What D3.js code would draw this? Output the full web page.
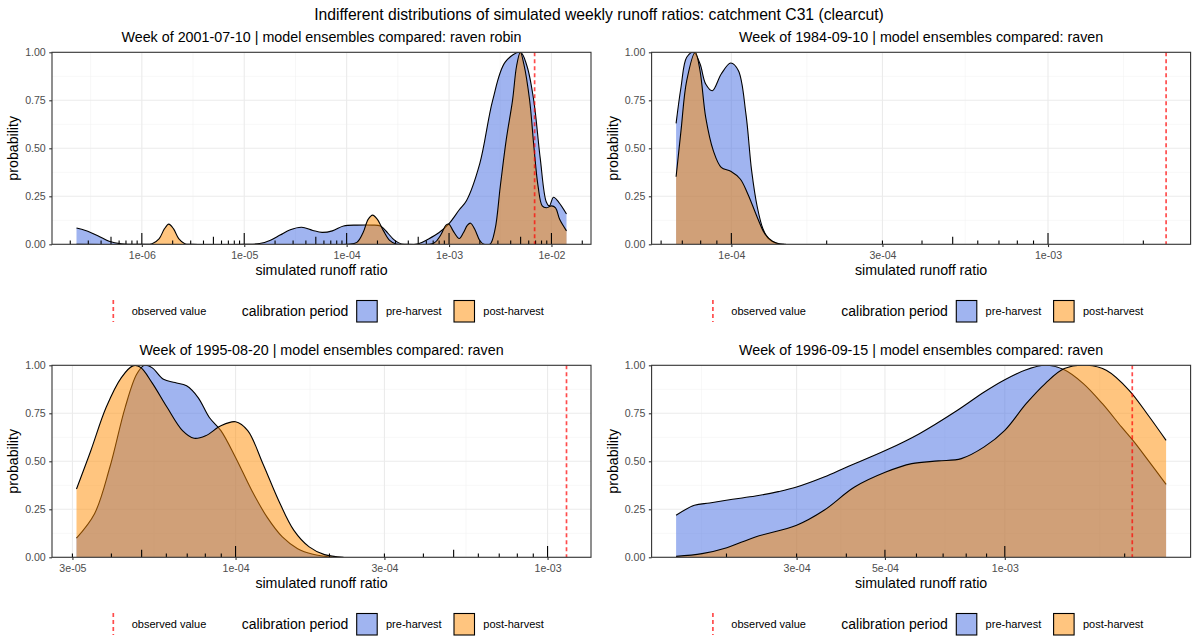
<!DOCTYPE html>
<html>
<head>
<meta charset="utf-8">
<script src="https://cdn.jsdelivr.net/npm/d3@7"></script>
<style>
  body { margin: 0; background: #fff; }
  text { font-family: "Liberation Sans", Arial, sans-serif; }
</style>
</head>
<body>
<svg id="chart"></svg>
<script>
// titres
var mainTitle = "Indifferent distributions of simulated weekly runoff ratios: catchment C31 (clearcut)";
var panelTitles = [
  "Week of 2001-07-10 | model ensembles compared: raven robin",
  "Week of 1984-09-10 | model ensembles compared: raven",
  "Week of 1995-08-20 | model ensembles compared: raven",
  "Week of 1996-09-15 | model ensembles compared: raven"
];
var seriesNames = ["pre-harvest", "post-harvest"];

// densités : [log10(ratio), probabilité]
var pre1 = [[-6.638,0.085],[-6.55,0.072],[-6.43,0.045],[-6.32,0.016],[-6.2,0.002],[-6.1,0],[-5.0,0],[-4.85,0.004],
  [-4.75,0.02],[-4.65,0.048],[-4.55,0.076],[-4.44,0.089],[-4.33,0.072],[-4.24,0.062],[-4.14,0.07],[-4.03,0.095],
  [-3.9,0.1],[-3.75,0.1],[-3.67,0.095],[-3.6,0.06],[-3.55,0.03],[-3.5,0.01],[-3.45,0],[-3.3,0.003],[-3.2,0.028],
  [-3.1,0.06],[-3.0,0.108],[-2.9,0.18],[-2.83,0.227],[-2.7,0.42],[-2.574,0.75],[-2.45,0.95],[-2.304,1.0],
  [-2.24,0.93],[-2.173,0.75],[-2.11,0.45],[-2.05,0.22],[-2.02,0.2],[-1.98,0.245],[-1.93,0.22],[-1.853,0.158]];
var post1 = [[-6.638,0],[-6.0,0],[-5.9,0.003],[-5.83,0.03],[-5.78,0.08],[-5.737,0.105],[-5.69,0.08],[-5.64,0.03],
  [-5.58,0.003],[-5.5,0],[-4.0,0],[-3.9,0.01],[-3.84,0.06],[-3.79,0.13],[-3.746,0.152],[-3.7,0.13],[-3.64,0.07],
  [-3.58,0.02],[-3.52,0.002],[-3.4,0],[-3.15,0.005],[-3.08,0.05],[-3.03,0.1],[-3.0,0.105],[-2.96,0.07],[-2.9,0.03],
  [-2.86,0.06],[-2.82,0.1],[-2.79,0.11],[-2.75,0.08],[-2.7,0.02],[-2.66,0],[-2.6,0],[-2.55,0.08],[-2.5,0.3],
  [-2.44,0.55],[-2.38,0.75],[-2.34,0.93],[-2.304,1.0],[-2.27,0.94],[-2.213,0.75],[-2.17,0.5],[-2.13,0.3],
  [-2.09,0.2],[-2.05,0.19],[-2.0,0.2],[-1.96,0.19],[-1.92,0.13],[-1.853,0.07]];

var pre2 = [[-4.1745,0.63],[-4.159,0.818],[-4.141,0.974],[-4.119,1.0],[-4.099,0.94],[-4.081,0.835],[-4.06,0.8],
  [-4.032,0.887],[-4.002,0.944],[-3.978,0.905],[-3.954,0.679],[-3.936,0.384],[-3.918,0.193],[-3.9,0.08],
  [-3.882,0.028],[-3.858,0.005],[-3.834,0]];
var post2 = [[-4.1745,0.352],[-4.159,0.592],[-4.141,0.852],[-4.114,1.0],[-4.099,0.905],[-4.081,0.661],
  [-4.057,0.488],[-4.032,0.401],[-4.002,0.38],[-3.972,0.34],[-3.948,0.262],[-3.918,0.14],[-3.894,0.054],
  [-3.87,0.016],[-3.846,0.002],[-3.828,0]];

var pre3 = [[-4.5098,0.1],[-4.452,0.227],[-4.403,0.469],[-4.354,0.78],[-4.317,0.953],[-4.292,1.0],[-4.268,0.988],
  [-4.231,0.927],[-4.194,0.91],[-4.157,0.893],[-4.12,0.832],[-4.084,0.728],[-4.047,0.66],[-4.0,0.52],
  [-3.948,0.348],[-3.899,0.209],[-3.85,0.106],[-3.801,0.045],[-3.752,0.016],[-3.69,0]];
var post3 = [[-4.5098,0.356],[-4.464,0.555],[-4.415,0.78],[-4.366,0.936],[-4.329,0.997],[-4.305,0.99],
  [-4.268,0.91],[-4.219,0.78],[-4.17,0.66],[-4.133,0.62],[-4.096,0.633],[-4.047,0.685],[-4.0,0.706],
  [-3.961,0.66],[-3.912,0.486],[-3.862,0.296],[-3.813,0.14],[-3.764,0.054],[-3.715,0.014],[-3.654,0]];

var pre4 = [[-3.8255,0.219],[-3.7795,0.271],[-3.7412,0.283],[-3.6838,0.302],[-3.6263,0.319],[-3.569,0.342],
  [-3.5229,0.366],[-3.4539,0.418],[-3.3965,0.47],[-3.2988,0.557],[-3.2145,0.644],[-3.1188,0.766],
  [-3.0517,0.861],[-3.0,0.925],[-2.9464,0.977],[-2.8985,1.0],[-2.8506,0.977],[-2.8027,0.905],[-2.7548,0.8],
  [-2.707,0.679],[-2.6782,0.609],[-2.6399,0.505],[-2.5949,0.38]];
var post4 = [[-3.8255,0.005],[-3.7604,0.019],[-3.6981,0.05],[-3.6263,0.106],[-3.5229,0.167],[-3.4539,0.245],
  [-3.3773,0.366],[-3.2988,0.444],[-3.2337,0.488],[-3.1666,0.502],[-3.1092,0.514],[-3.0517,0.575],
  [-3.0,0.661],[-2.9464,0.8],[-2.8985,0.905],[-2.8506,0.983],[-2.7931,1.0],[-2.7452,0.974],[-2.6878,0.87],
  [-2.6399,0.74],[-2.5949,0.609]];

// valeur observée (ligne rouge)
var observed = [6.85e-3, 2.36e-3, 1.15e-3, 2.09e-3];

// graduations de l'axe x (avec voisins hors domaine pour la grille mineure)
var breaks1 = [1e-7, 1e-6, 1e-5, 1e-4, 1e-3, 1e-2, 1e-1];
var labels1 = ["1e-07", "1e-06", "1e-05", "1e-04", "1e-03", "1e-02", "1e-01"];
var breaks2 = [3e-5, 1e-4, 3e-4, 1e-3, 3e-3];
var labels2 = ["3e-05", "1e-04", "3e-04", "1e-03", "3e-03"];
var breaks3 = [1e-5, 3e-5, 1e-4, 3e-4, 1e-3, 3e-3];
var labels3 = ["1e-05", "3e-05", "1e-04", "3e-04", "1e-03", "3e-03"];
var breaks4 = [1e-4, 3e-4, 5e-4, 1e-3, 3e-3];
var labels4 = ["1e-04", "3e-04", "5e-04", "1e-03", "3e-03"];

var yBreaks = [0, 0.25, 0.5, 0.75, 1];
var yLabels = ["0.00", "0.25", "0.50", "0.75", "1.00"];

// mise en page
var W = 1193, H = 639;
var plotW = 539, plotH = 192;
var colLefts = [52, 651.6];
var rowTops = [52.3, 365.3];
var blue = "#4169E1", orange = "#FF8C00", fillAlpha = 0.5;

var panels = [
  {pre: pre1, post: post1, obs: observed[0], breaks: breaks1, labels: labels1, title: panelTitles[0]},
  {pre: pre2, post: post2, obs: observed[1], breaks: breaks2, labels: labels2, title: panelTitles[1]},
  {pre: pre3, post: post3, obs: observed[2], breaks: breaks3, labels: labels3, title: panelTitles[2]},
  {pre: pre4, post: post4, obs: observed[3], breaks: breaks4, labels: labels4, title: panelTitles[3]}
];

var svg = d3.select("#chart").attr("width", W).attr("height", H);
svg.append("rect").attr("width", W).attr("height", H).attr("fill", "#fff");

svg.append("text")
  .attr("x", 599).attr("y", 20)
  .attr("text-anchor", "middle")
  .attr("font-size", 15.7)
  .attr("fill", "#000")
  .text(mainTitle);

panels.forEach(function(p, i) {
  var left = colLefts[i % 2], top = rowTops[Math.floor(i / 2)];
  var g = svg.append("g").attr("transform", "translate(" + left + "," + top + ")");

  // domaine x : étendue des données + valeur observée, élargie de 5 % (comme ggplot)
  var lo = Math.min(p.pre[0][0], p.post[0][0], Math.log10(p.obs));
  var hi = Math.max(p.pre[p.pre.length - 1][0], p.post[p.post.length - 1][0], Math.log10(p.obs));
  var pad = (hi - lo) * 0.05;
  var x = d3.scaleLog().domain([Math.pow(10, lo - pad), Math.pow(10, hi + pad)]).range([0, plotW]);
  var y = d3.scaleLinear().domain([0, 1]).range([plotH, 0]);

  var clipId = "clip" + i;
  g.append("clipPath").attr("id", clipId)
    .append("rect").attr("width", plotW).attr("height", plotH);

  var inner = g.append("g").attr("clip-path", "url(#" + clipId + ")");

  // grille mineure
  var yMinor = yBreaks.slice(1).map(function(d, k) { return (d + yBreaks[k]) / 2; });
  var xMinor = p.breaks.slice(1).map(function(d, k) { return Math.sqrt(d * p.breaks[k]); });
  inner.selectAll(".ymin").data(yMinor).enter().append("line")
    .attr("x1", 0).attr("x2", plotW).attr("y1", y).attr("y2", y)
    .attr("stroke", "#F2F2F2").attr("stroke-width", 0.6);
  inner.selectAll(".xmin").data(xMinor).enter().append("line")
    .attr("x1", x).attr("x2", x).attr("y1", 0).attr("y2", plotH)
    .attr("stroke", "#F2F2F2").attr("stroke-width", 0.6);
  // grille majeure
  inner.selectAll(".ymaj").data(yBreaks).enter().append("line")
    .attr("x1", 0).attr("x2", plotW).attr("y1", y).attr("y2", y)
    .attr("stroke", "#EBEBEB").attr("stroke-width", 1.1);
  inner.selectAll(".xmaj").data(p.breaks).enter().append("line")
    .attr("x1", x).attr("x2", x).attr("y1", 0).attr("y2", plotH)
    .attr("stroke", "#EBEBEB").attr("stroke-width", 1.1);

  // densités
  var curve = d3.curveCatmullRom.alpha(0.5);
  var area = d3.area()
    .x(function(d) { return x(Math.pow(10, d[0])); })
    .y0(plotH)
    .y1(function(d) { return y(d[1]); })
    .curve(curve);
  var line = d3.line()
    .x(function(d) { return x(Math.pow(10, d[0])); })
    .y(function(d) { return y(d[1]); })
    .curve(curve);

  [[p.pre, blue], [p.post, orange]].forEach(function(s) {
    inner.append("path").datum(s[0])
      .attr("fill", s[1]).attr("fill-opacity", fillAlpha)
      .attr("d", area);
    inner.append("path").datum(s[0])
      .attr("fill", "none").attr("stroke", "#000").attr("stroke-width", 1.1)
      .attr("d", line);
  });

  // log ticks (annotation_logticks)
  var d0 = x.domain()[0], d1 = x.domain()[1];
  var logTicks = [];
  for (var e = Math.floor(Math.log10(d0)); e <= Math.ceil(Math.log10(d1)); e++) {
    for (var m = 1; m <= 9; m++) {
      var v = m * Math.pow(10, e);
      if (v >= d0 && v <= d1) logTicks.push({v: v, len: m === 1 ? 11.3 : (m === 5 ? 7.6 : 3.8)});
    }
  }
  inner.selectAll(".logtick").data(logTicks).enter().append("line")
    .attr("x1", function(d) { return x(d.v); }).attr("x2", function(d) { return x(d.v); })
    .attr("y1", plotH).attr("y2", function(d) { return plotH - d.len; })
    .attr("stroke", "#000").attr("stroke-width", 1.1);

  // valeur observée
  inner.append("line")
    .attr("x1", x(p.obs)).attr("x2", x(p.obs)).attr("y1", 0).attr("y2", plotH)
    .attr("stroke", "red").attr("stroke-opacity", 0.7)
    .attr("stroke-width", 1.7).attr("stroke-dasharray", "4,3");

  // cadre
  g.append("rect").attr("width", plotW).attr("height", plotH)
    .attr("fill", "none").attr("stroke", "#333").attr("stroke-width", 1.1);

  // axes
  var visBreaks = p.breaks.filter(function(b) { return b >= d0 && b <= d1; });
  var xAxis = g.append("g")
    .attr("transform", "translate(0," + plotH + ")")
    .call(d3.axisBottom(x).tickValues(visBreaks)
      .tickFormat(function(d) { return p.labels[p.breaks.indexOf(d)]; })
      .tickSize(2.75).tickSizeOuter(0).tickPadding(4.5));
  var yAxis = g.append("g")
    .call(d3.axisLeft(y).tickValues(yBreaks)
      .tickFormat(function(d) { return yLabels[yBreaks.indexOf(d)]; })
      .tickSize(2.75).tickSizeOuter(0).tickPadding(3.5));
  [xAxis, yAxis].forEach(function(a) {
    a.select(".domain").remove();
    a.selectAll("line").attr("stroke", "#333").attr("stroke-width", 1.1);
    a.selectAll("text").attr("fill", "#4D4D4D").attr("font-size", 10.6)
      .attr("font-family", "'Liberation Sans', Arial, sans-serif");
  });

  // titres
  g.append("text").attr("x", plotW / 2).attr("y", -10)
    .attr("text-anchor", "middle").attr("font-size", 14.3).text(p.title);
  g.append("text").attr("x", plotW / 2).attr("y", plotH + 31)
    .attr("text-anchor", "middle").attr("font-size", 14.2).text("simulated runoff ratio");
  g.append("text").attr("transform", "translate(-34," + (plotH / 2) + ") rotate(-90)")
    .attr("text-anchor", "middle").attr("font-size", 14.2).text("probability");

  // légende
  var lg = g.append("g").attr("transform", "translate(0," + (plotH + 66.7) + ")");
  lg.append("line").attr("x1", 61.3).attr("x2", 61.3).attr("y1", -11).attr("y2", 11)
    .attr("stroke", "red").attr("stroke-opacity", 0.7)
    .attr("stroke-width", 1.7).attr("stroke-dasharray", "4,3");
  lg.append("text").attr("x", 79.7).attr("y", 4).attr("font-size", 11).text("observed value");
  lg.append("text").attr("x", 189.7).attr("y", 5).attr("font-size", 14).text("calibration period");
  [[blue, 304.7, seriesNames[0], 334], [orange, 402, seriesNames[1], 431.3]].forEach(function(k) {
    lg.append("rect").attr("x", k[1]).attr("y", -10.5).attr("width", 20.5).attr("height", 21.5)
      .attr("fill", "#fff");
    lg.append("rect").attr("x", k[1]).attr("y", -10.5).attr("width", 20.5).attr("height", 21.5)
      .attr("fill", k[0]).attr("fill-opacity", fillAlpha)
      .attr("stroke", "#000").attr("stroke-width", 1.1);
    lg.append("text").attr("x", k[3]).attr("y", 4).attr("font-size", 11).text(k[2]);
  });
});
</script>
</body>
</html>
